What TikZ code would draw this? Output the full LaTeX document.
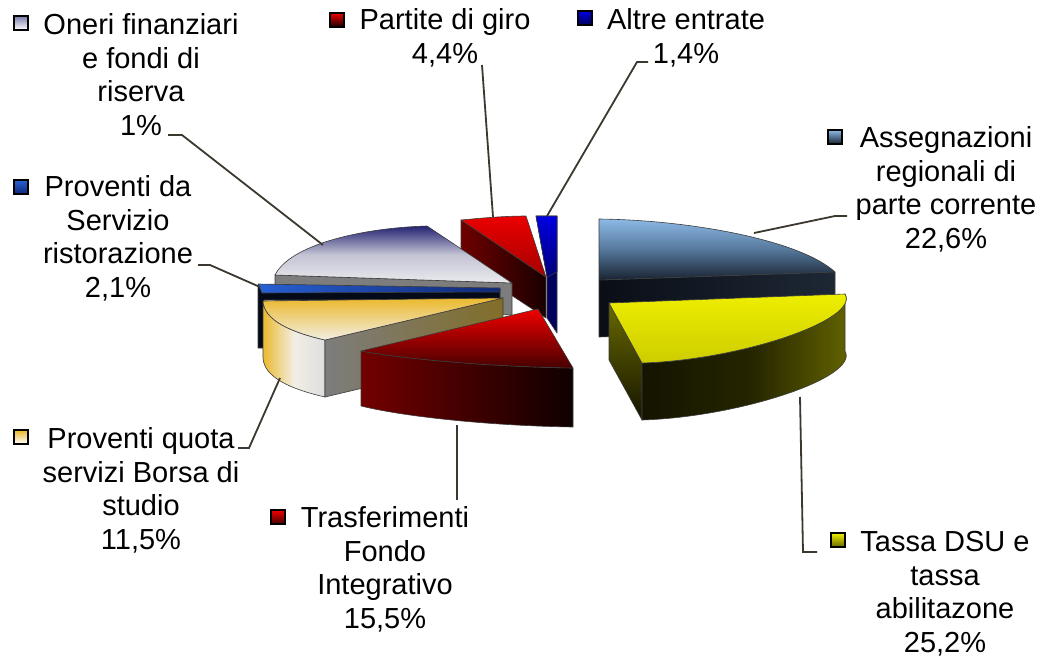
\documentclass[tikz,border=0pt]{standalone}
\usepackage{fontspec}
\setmainfont{Liberation Sans}
\definecolor{altreTop}{RGB}{0,0,225}
\definecolor{altreSide}{RGB}{0,0,95}
\definecolor{partTop}{RGB}{235,0,0}
\definecolor{partTopB}{RGB}{165,0,0}
\definecolor{partSideL}{RGB}{110,0,0}
\definecolor{partSideR}{RGB}{25,0,0}
\definecolor{oneriTop}{RGB}{35,35,115}
\definecolor{oneriMid}{RGB}{195,195,212}
\definecolor{oneriBot}{RGB}{234,234,237}
\definecolor{greyFace}{RGB}{125,125,125}
\definecolor{servTop}{RGB}{40,95,210}
\definecolor{servDark}{RGB}{15,40,120}
\definecolor{servSide}{RGB}{5,10,25}
\definecolor{quotaGold}{RGB}{235,185,45}
\definecolor{quotaPale}{RGB}{242,238,228}
\definecolor{quotaOlive}{RGB}{130,110,40}
\definecolor{trasTop}{RGB}{240,0,0}
\definecolor{trasTopB}{RGB}{70,0,0}
\definecolor{trasSideL}{RGB}{115,0,0}
\definecolor{trasSideR}{RGB}{15,0,0}
\definecolor{assTop}{RGB}{140,185,230}
\definecolor{assMid}{RGB}{85,120,155}
\definecolor{assBot}{RGB}{25,35,50}
\definecolor{assSide}{RGB}{10,14,22}
\definecolor{tassTop}{RGB}{238,238,0}
\definecolor{tassTopB}{RGB}{205,205,0}
\definecolor{tassOlive}{RGB}{105,105,0}
\definecolor{tassDark}{RGB}{20,20,0}
\definecolor{leaderCol}{RGB}{60,56,48}
\begin{document}
\begin{tikzpicture}[x=1pt,y=-1pt,
    face/.style={draw={rgb,255:red,60;green,60;blue,60},line width=0.6pt,line join=round},
    lbl/.style={align=center,anchor=base,inner sep=0pt,font=\fontsize{29}{33.4}\selectfont},
    key/.style={draw=black,line width=1.6pt,minimum size=13.5pt,inner sep=0pt},
    leader/.style={draw=leaderCol,line width=1.8pt}]
    \useasboundingbox (0,0) rectangle (1042,657);

    \draw[face,fill=altreSide] (536,216) -- (557,216) -- (557,333) -- (547,318) -- (547,277) -- cycle;
    \draw[face,top color=altreTop,bottom color=altreSide!80!altreTop] (536,216) -- (557,216) -- (557,272) -- (547,277) -- cycle;

    \draw[face,left color=partSideL,right color=partSideR] (461,220) -- (546,277) -- (546,318) -- (461,262) -- cycle;
    \draw[face,top color=partTop,bottom color=partTopB] (461,220) .. controls (482,218) and (505,216) .. (526,216) -- (546,277) -- cycle;

    \draw[face,fill=greyFace] (275,275) -- (512,283) -- (512,315) -- (275,305) -- cycle;
    \draw[face,top color=oneriTop,bottom color=oneriBot,middle color=oneriMid] (275,275) .. controls (290,245) and (360,228) .. (427,226) -- (512,283) -- cycle;

    \draw[face,fill=servSide] (258,285) -- (500,289) -- (500,300) -- (264,300) -- (264,348) -- (258,348) -- cycle;
    \draw[face,left color=servTop,right color=servDark] (258,284) -- (500,288) -- (500,292) -- (262,293) -- cycle;

    \draw[face,left color=quotaGold,right color={rgb,255:red,222;green,222;blue,222},middle color=quotaPale] (263,301) .. controls (264,320) and (290,332) .. (325,340) -- (325,397) .. controls (290,389) and (264,377) .. (263,358) -- cycle;
    \draw[face,left color=greyFace,right color=quotaOlive] (325,340) -- (503,298) -- (503,355) -- (325,397) -- cycle;
    \draw[face,top color=quotaGold,bottom color=quotaPale] (263,301) -- (503,298) -- (325,340) .. controls (290,332) and (264,320) .. (263,301) -- cycle;

    \draw[face,left color=trasSideL,right color=trasSideR] (361,351) .. controls (410,360) and (500,367) .. (573,368) -- (573,427) .. controls (500,426) and (410,418) .. (361,406) -- cycle;
    \draw[face,top color=trasTop,bottom color=trasTopB] (538,309) -- (573,368) .. controls (500,367) and (410,360) .. (361,351) -- cycle;

    \draw[face,left color=assSide,right color=assSide!85!assTop] (599,280) -- (835,272) -- (835,330) -- (599,337) -- cycle;
    \draw[face,top color=assTop,bottom color=assBot,middle color=assMid] (599,219) .. controls (690,220) and (800,240) .. (835,272) -- (599,280) -- cycle;

    \draw[face,top color=tassOlive,bottom color=tassDark] (609,303) -- (642,363) -- (642,420) -- (609,360) -- cycle;
    \draw[face,left color=tassDark,right color=tassOlive,middle color=tassDark!80!tassOlive] (845,294) .. controls (860,320) and (740,360) .. (642,363) -- (642,420) .. controls (740,417) and (860,377) .. (845,351) -- cycle;
    \draw[face,top color=tassTop,bottom color=tassTopB] (609,303) -- (845,294) .. controls (860,320) and (740,360) .. (642,363) -- cycle;

    \coordinate (oneriPt) at (323,245);
    \coordinate (servPt) at (260,287);
    \coordinate (quotaPt) at (280,378);
    \coordinate (trasPt) at (457,425);
    \coordinate (tassPt) at (800,397);
    \coordinate (assPt) at (754,233);
    \coordinate (partPt) at (493,217);
    \coordinate (altrePt) at (547,216);

    \node[lbl] (oneri) at (141,135) {Oneri finanziari\\e fondi di\\riserva\\1\%};
    \node[lbl] (serv) at (118,297) {Proventi da\\Servizio\\ristorazione\\2,1\%};
    \node[lbl] (quota) at (141,549) {Proventi quota\\servizi Borsa di\\studio\\11,5\%};
    \node[lbl] (tras) at (385,628) {Trasferimenti\\Fondo\\Integrativo\\15,5\%};
    \node[lbl] (tass) at (945,652) {Tassa DSU e\\tassa\\abilitazone\\25,2\%};
    \node[lbl] (ass) at (946,248) {Assegnazioni\\regionali di\\parte corrente\\22,6\%};
    \node[lbl] (part) at (445,63) {Partite di giro\\4,4\%};
    \node[lbl] (altre) at (686,63) {Altre entrate\\1,4\%};

    \node[key,top color=oneriTop!60!white,bottom color=white] (oneriKey) at (21,23) {};
    \node[key,top color=servTop,bottom color=servDark] (servKey) at (21,187) {};
    \node[key,top color=quotaGold,bottom color=white] (quotaKey) at (21,437) {};
    \node[key,top color=trasTop,bottom color=trasTopB] (trasKey) at (278,517) {};
    \node[key,top color=tassTop,bottom color=tassOlive] (tassKey) at (838,540) {};
    \node[key,top color=assTop,bottom color=assBot] (assKey) at (835,137) {};
    \node[key,top color=partTop,bottom color=partSideR] (partKey) at (337,20) {};
    \node[key,top color=altreTop,bottom color=altreSide] (altreKey) at (585,18) {};

    \draw[leader] (168,135) -- (182,135) -- (oneriPt);
    \draw[leader] (198,265) -- (210,265) -- (servPt);
    \draw[leader] (238,448) -- (249,448) -- (quotaPt);
    \draw[leader] (457,500) -- (trasPt);
    \draw[leader] (817,552) -- (803,552) -- (tassPt);
    \draw[leader] (847,216) -- (835,216) -- (assPt);
    \draw[leader] (482,65) -- (partPt);
    \draw[leader] (648,62) -- (637,62) -- (altrePt);
\end{tikzpicture}
\end{document}
